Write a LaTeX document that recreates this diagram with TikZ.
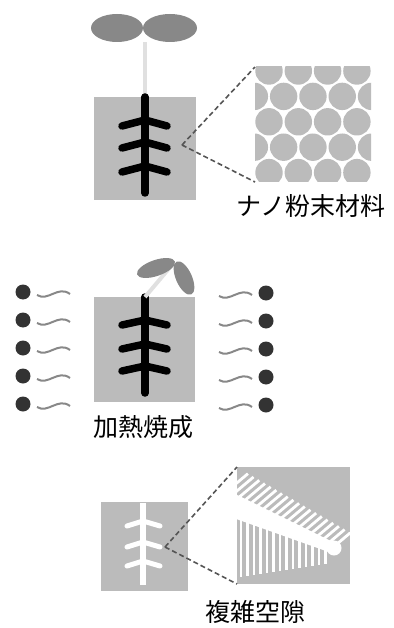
\documentclass[tikz,border=0pt]{standalone}
\usepackage{fontspec}
\newfontfamily\jpfont{Noto Sans CJK JP}
\definecolor{soil}{HTML}{BBBBBB}
\definecolor{leafgray}{HTML}{888888}
\definecolor{stemgray}{HTML}{E0E0E0}
\definecolor{heatdot}{HTML}{333333}
\definecolor{dashgray}{HTML}{555555}
\tikzset{
  root/.style={line width=7.5pt, line cap=round, line join=round},
  whiteroot/.style={white, line width=5pt, line cap=round, line join=round},
  zoomline/.style={draw=dashgray, line width=1.6pt, dash pattern=on 5pt off 3pt},
  wave/.style={draw=leafgray, line width=2pt},
  hair/.style={white, line width=2.8pt},
  caption/.style={font=\jpfont\fontsize{25}{25}\selectfont, inner sep=0pt},
}
\begin{document}
\begin{tikzpicture}[x=1pt, y=-1pt]
    \useasboundingbox (0,0) rectangle (393,628);

    % seedling in the powder
    \draw [stemgray, line width=4pt] (145,42) -- (145,97);
    \fill [leafgray] (117,28) ellipse [x radius=26, y radius=14];
    \fill [leafgray] (170,28) ellipse [x radius=27, y radius=14];
    \fill [soil] (94,97) rectangle (196,200);
    \draw [root] (145,97) -- (145,193);
    \foreach \y in {120,142,166}
        \draw [root] (122,{\y+6}) -- (145,\y) -- (167,{\y+6});

    \coordinate (spot1) at (182,145);
    \coordinate (lens1nw) at (255,67);
    \coordinate (lens1sw) at (255,182);
    \begin{scope}
        \clip (255,67) rectangle (371,182);
        \foreach \row in {0,...,4}
            \foreach \col in {-1,...,4}
                \fill [soil] ({269+29.3*\col-14.65*mod(\row,2)},{71+25.4*\row}) circle (13.7);
    \end{scope}
    \draw [zoomline] (spot1) -- (lens1nw);
    \draw [zoomline] (spot1) -- (lens1sw);
    \node [caption] (powder) at (311,206) {ナノ粉末材料};

    % heating
    \fill [soil] (94,297) rectangle (195,402);
    \draw [root] (145,297) -- (145,393);
    \foreach \y in {320,344,366}
        \draw [root] (122,{\y+5}) -- (145,\y) -- (167,{\y+5});
    \draw [stemgray, line width=4pt] (145,297) -- (172,265);
    \fill [leafgray, rotate around={19:(156,268)}] (156,268) ellipse [x radius=20, y radius=8];
    \fill [leafgray, rotate around={-66:(184,278)}] (184,278) ellipse [x radius=18, y radius=8];
    \foreach \y in {292,320,...,404}
        {\fill [heatdot] (23,\y) circle (7.5);
        \draw [wave] (37,{\y+3}) .. controls (48,{\y+10}) and (58,{\y-7}) .. (70,{\y+2});
        \fill [heatdot] (266,{\y+1}) circle (7.5);
        \draw [wave] (219,{\y+4}) .. controls (230,{\y+11}) and (240,{\y-6}) .. (252,{\y+3});}
    \node [caption] (sinter) at (143,427) {加熱焼成};

    % pores left behind
    \fill [soil] (101,502) rectangle (188,591);
    \draw [white, line width=6pt] (143,503) -- (143,585);
    \foreach \y in {521,542,561}
        \draw [whiteroot] (127,{\y+5}) -- (143,\y) -- (160,{\y+5});

    \coordinate (spot2) at (165,547);
    \coordinate (lens2nw) at (237,467);
    \coordinate (lens2sw) at (237,584);
    \fill [soil] (237,467) rectangle (350,584);
    \begin{scope}
        \clip (237,467) rectangle (350,584);
        \fill [white] (225,489) -- (331.1,541.1) -- (336.9,554.9) -- (225,515) -- cycle;
        \fill [white] (334,548) circle (7.5);
        \foreach \i in {-3,...,15}
            \draw [hair]
                ({237+6.4*\i},{507+0.42*6.4*\i})
                -- ++({0.766*(36.5-0.93*\i)},{-0.643*(36.5-0.93*\i)});
        \foreach \i in {0,...,13}
            \draw [hair]
                ({241+6.5*\i},{510+0.42*6.5*\i}) -- ({241+6.5*\i},{577-0.15*6.5*\i});
    \end{scope}
    \draw [zoomline] (spot2) -- (lens2nw);
    \draw [zoomline] (spot2) -- (lens2sw);
    \node [caption] (pores) at (255,612) {複雑空隙};
\end{tikzpicture}
\end{document}
